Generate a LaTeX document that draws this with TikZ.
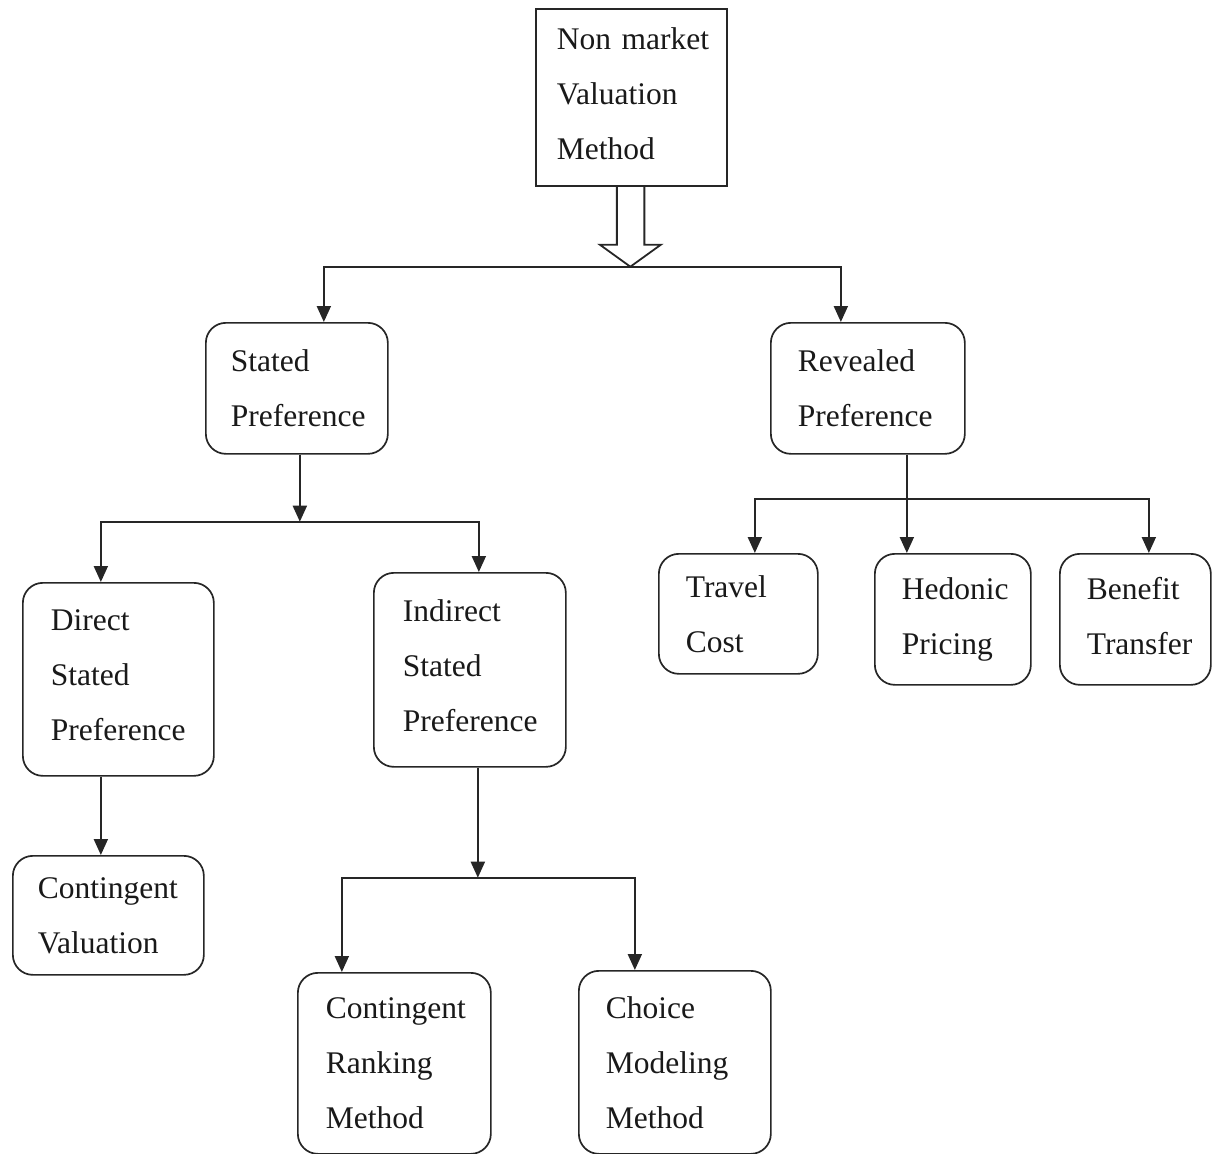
\documentclass[tikz,border=0pt]{standalone}
\usepackage{fontspec}
\setmainfont{Liberation Serif}
\usetikzlibrary{arrows.meta,calc}
\hyphenpenalty=10000
\hbadness=10000
\hfuzz=200pt
\begin{document}
\begin{tikzpicture}[x=1pt,y=-1pt,
  box/.style n args={4}{anchor=north west, draw=black!85, line width=1.7pt,
    rounded corners=20pt, minimum width=#1pt, minimum height=#2pt,
    inner xsep=#3pt, text width=#4pt, align=left, text=black!90,
    font=\fontsize{31.5}{55}\selectfont},
  tall/.style={execute at end node=\rule[-8pt]{0pt}{8pt}},
  ln/.style={draw=black!85, line width=2pt},
  arr/.style={ln, -{Triangle[length=16pt,width=14pt]}}]
\useasboundingbox (0,0) rectangle (1216,1154);

\node[box={191}{177}{21}{149}, rounded corners=0pt, tall] (top) at (535,8) {Non~market\\Valuation\\Method};
\node[box={182}{131}{25}{132}] (sp) at (205,322) {Stated\\Preference};
\node[box={194}{131}{27}{140}] (rp) at (770,322) {Revealed\\Preference};
\node[box={191}{193}{28}{135}, tall] (dsp) at (22,582) {Direct\\Stated\\Preference};
\node[box={192}{194}{29}{134}, tall] (isp) at (373,572) {Indirect\\Stated\\Preference};
\node[box={159}{120}{27}{105}] (tc) at (658,553) {Travel\\Cost};
\node[box={156}{131}{27}{102}] (hp) at (874,553) {Hedonic\\Pricing};
\node[box={151}{131}{27}{97}] (bt) at (1059,553) {Benefit\\Transfer\vphantom{g}};
\node[box={191}{119}{25}{141}] (cv) at (12,855) {Contingent\\Valuation};
\node[box={193}{181}{28}{137}] (crm) at (297,972) {Contingent\\Ranking\\Method};
\node[box={192}{183}{27}{138}] (cmm) at (578,970) {Choice\\Modeling\\Method};

% hollow arrow from the top box
\draw[ln, line width=1.8pt, line join=miter] ([xshift=-14.5pt]top.south) -- ++(0,58) -- ++(-17,0)
  -- ++(30.5,22) coordinate (j1) -- ++(30.5,-22) -- ++(-16.5,0) -- ++(0,-58);
\draw[arr] (j1) -| ([xshift=27pt]sp.north);
\draw[arr] (j1) -| ([xshift=-27pt]rp.north);

% stated preference branch
\coordinate (j2) at ([xshift=3pt,yshift=-67pt]sp.south);
\draw[arr] ([xshift=3pt]sp.south) -- (j2);
\draw[arr] (j2) -| ([xshift=-17.5pt]dsp.north);
\draw[arr] (j2) -| ([xshift=9pt]isp.north);

% revealed preference branch
\coordinate (j3) at ([xshift=39pt,yshift=-44pt]rp.south);
\draw[arr] ([xshift=39pt]rp.south) -- ([xshift=39pt]rp.south |- hp.north);
\draw[arr] (j3) -| ([xshift=16.5pt]tc.north);
\draw[arr] (j3) -| ([xshift=13.5pt]bt.north);

% direct -> contingent valuation
\draw[arr] ([xshift=-17.5pt]dsp.south) -- ([xshift=-17.5pt]dsp.south |- cv.north);

% indirect branch
\coordinate (j4) at ([xshift=8pt,yshift=-110pt]isp.south);
\draw[arr] ([xshift=8pt]isp.south) -- (j4);
\draw[arr] (j4) -| ([xshift=-52.5pt]crm.north);
\draw[arr] (j4) -| ([xshift=-40pt]cmm.north);
\end{tikzpicture}
\end{document}
